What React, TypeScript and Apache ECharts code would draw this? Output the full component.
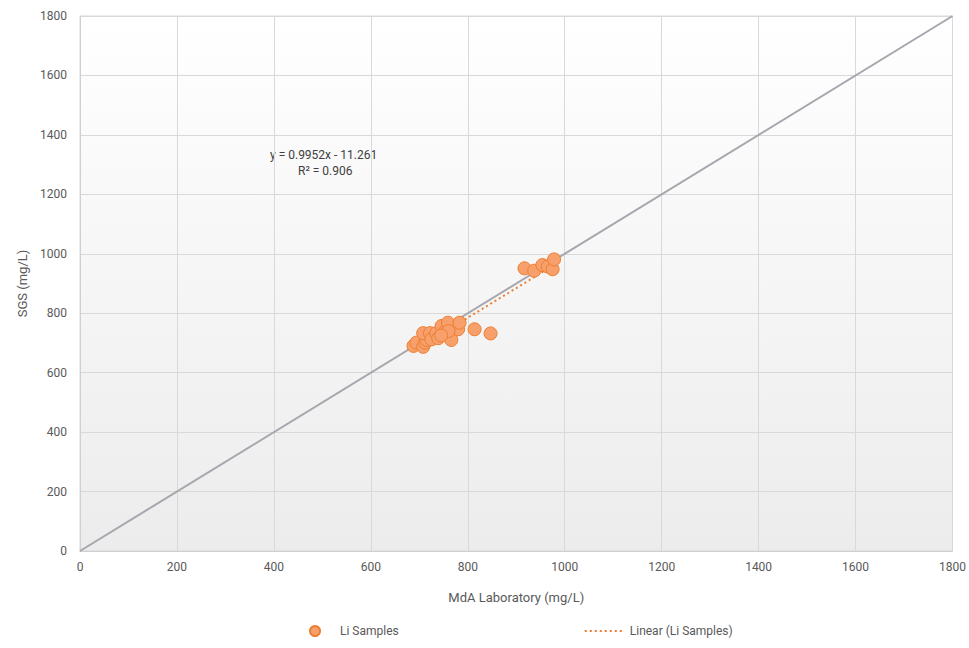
import React, { useEffect, useRef } from "react";
import * as echarts from "echarts";

// MdA laboratory vs SGS lithium assays (mg/L)
const mdaValues = [688, 694, 708, 712, 715, 708, 722, 725, 735, 739, 746, 753, 759, 766, 766, 780, 783, 760, 745, 814, 847, 917, 937, 954, 965, 975, 978];
const sgsValues = [690, 701, 687, 701, 710, 733, 733, 712, 733, 716, 757, 738, 768, 733, 710, 746, 768, 740, 725, 746, 732, 951, 943, 962, 957, 948, 981];

// Excel-style linear fit shown on the chart
const slope = 0.9952;
const intercept = -11.261;
const rSquared = 0.906;

const axisTicks = [0, 200, 400, 600, 800, 1000, 1200, 1400, 1600, 1800];
const oneToOne = [
  [0, 0],
  [1800, 1800],
];

export default function App() {
  const ref = useRef<HTMLDivElement>(null);

  useEffect(() => {
    if (!ref.current) return;
    const chart = echarts.init(ref.current, null, { renderer: "svg" });
    const points = mdaValues.map((x, i) => [x, sgsValues[i]]);
    const xMin = Math.min(...mdaValues);
    const xMax = Math.max(...mdaValues);
    const fit = [
      [xMin, slope * xMin + intercept],
      [xMax, slope * xMax + intercept],
    ];
    const font = "Roboto, 'Liberation Sans', sans-serif";
    const labelColor = "#595959";
    const plainNumber = (v: number) => String(v);

    chart.setOption({
      animation: false,
      textStyle: { fontFamily: font },
      grid: {
        left: 80,
        right: 6,
        top: 16,
        bottom: 97,
        show: true,
        borderColor: "#d9d9d9",
        borderWidth: 1,
        backgroundColor: new echarts.graphic.LinearGradient(0, 0, 0, 1, [
          { offset: 0, color: "#ffffff" },
          { offset: 1, color: "#ececec" },
        ]),
      },
      xAxis: {
        type: "value",
        min: axisTicks[0],
        max: axisTicks[axisTicks.length - 1],
        interval: 200,
        name: "MdA Laboratory (mg/L)",
        nameLocation: "middle",
        nameGap: 40,
        nameTextStyle: { color: labelColor, fontSize: 13, fontFamily: font },
        axisLine: { show: true, lineStyle: { color: "#d0d0d0" } },
        axisTick: { show: false },
        axisLabel: { color: labelColor, fontSize: 12, margin: 10, fontFamily: font, formatter: plainNumber },
        splitLine: { show: true, lineStyle: { color: "#d9d9d9", width: 1 } },
      },
      yAxis: {
        type: "value",
        min: axisTicks[0],
        max: axisTicks[axisTicks.length - 1],
        interval: 200,
        name: "SGS (mg/L)",
        nameLocation: "middle",
        nameGap: 31,
        nameTextStyle: { color: labelColor, fontSize: 13, fontFamily: font },
        axisLine: { show: true, lineStyle: { color: "#d0d0d0" } },
        axisTick: { show: false },
        axisLabel: { color: labelColor, fontSize: 12, margin: 13, fontFamily: font, formatter: plainNumber },
        splitLine: { show: true, lineStyle: { color: "#d9d9d9", width: 1 } },
      },
      legend: {
        bottom: 6,
        left: 304,
        itemWidth: 40,
        itemHeight: 10,
        itemGap: 185,
        textStyle: { color: labelColor, fontSize: 12, fontFamily: font },
        data: [
          { name: "Li Samples", icon: "circle" },
          { name: "Linear (Li Samples)", itemStyle: { opacity: 0 } },
        ],
      },
      series: [
        {
          name: "1:1",
          type: "line",
          data: oneToOne,
          symbol: "none",
          silent: true,
          lineStyle: { color: "#a6a6ae", width: 2 },
          z: 1,
        },
        {
          name: "Linear (Li Samples)",
          type: "line",
          data: fit,
          symbol: "none",
          lineStyle: { color: "#ed7d31", width: 2, type: [2, 3] },
          itemStyle: { color: "#ed7d31" },
          z: 2,
        },
        {
          name: "Li Samples",
          type: "scatter",
          data: points,
          symbolSize: 13,
          itemStyle: {
            color: "#f8a06b",
            borderColor: "#ed7d31",
            borderWidth: 1,
            opacity: 1,
          },
          z: 3,
        },
      ],
      graphic: [
        {
          type: "text",
          left: 270,
          top: 149,
          style: {
            text: `y = ${slope}x - ${Math.abs(intercept)}`,
            fill: "#404040",
            font: `12px ${font}`,
          },
        },
        {
          type: "text",
          left: 298,
          top: 165,
          style: {
            text: `R² = ${rSquared}`,
            fill: "#404040",
            font: `12px ${font}`,
          },
        },
      ],
    });
    return () => chart.dispose();
  }, []);

  return (
    <div
      ref={ref}
      style={{ position: "fixed", left: 0, top: 0, width: 969, height: 648, background: "#ffffff" }}
    />
  );
}
